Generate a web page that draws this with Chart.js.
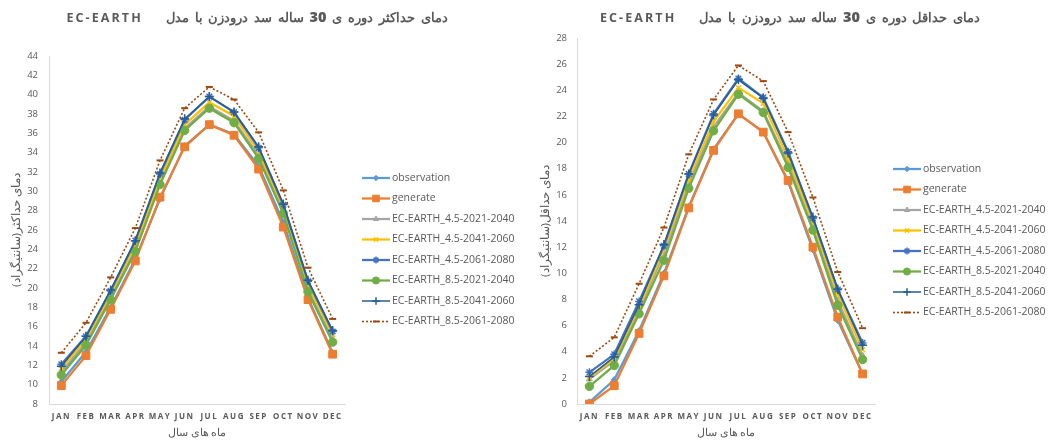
<!DOCTYPE html>
<html><head><meta charset="utf-8">
<script src="https://cdn.jsdelivr.net/npm/chart.js@4.4.1/dist/chart.umd.min.js"></script>
<style>
html,body{margin:0;padding:0;background:#fff;}
body{width:1048px;height:443px;position:relative;overflow:hidden;font-family:'Open Sans','Noto Sans',sans-serif;}
.title{position:absolute;top:6px;height:22px;line-height:22px;direction:rtl;text-align:center;color:#595959;font-size:12.5px;font-weight:bold;letter-spacing:2.1px;word-spacing:2.5px;white-space:nowrap;}
.title b{font-size:14.5px;}
#c1wrap{position:absolute;left:0;top:0;width:530px;height:443px;}
#c2wrap{position:absolute;left:525px;top:0;width:523px;height:443px;}
</style></head>
<body>
<div id="c1wrap"><canvas id="c1" width="530" height="443"></canvas></div>
<div id="c2wrap"><canvas id="c2" width="523" height="443"></canvas></div>
<div class="title" style="left:37px;width:440px;">دمای حداکثر دوره ی <b>30</b> ساله سد درودزن با مدل&nbsp;&nbsp;&nbsp; EC-EARTH</div>
<div class="title" style="left:570px;width:440px;">دمای حداقل دوره ی <b>30</b> ساله سد درودزن با مدل&nbsp;&nbsp;&nbsp; EC-EARTH</div>
<script>
// ---- data ----
const months = ['JAN','FEB','MAR','APR','MAY','JUN','JUL','AUG','SEP','OCT','NOV','DEC'];
const seriesNames = ['observation','generate','EC-EARTH_4.5-2021-2040','EC-EARTH_4.5-2041-2060','EC-EARTH_4.5-2061-2080','EC-EARTH_8.5-2021-2040','EC-EARTH_8.5-2041-2060','EC-EARTH_8.5-2061-2080'];

// maximum temperature (left chart)
const maxObservation = [10.3, 13.4, 18.0, 23.0, 29.2, 34.7, 36.9, 35.9, 32.6, 26.8, 19.0, 13.3];
const maxGenerate    = [9.9, 13.0, 17.8, 22.8, 29.4, 34.6, 36.9, 35.8, 32.3, 26.3, 18.8, 13.15];
const max45_2021     = [11.3, 14.4, 19.0, 24.0, 30.9, 36.5, 38.8, 37.3, 33.7, 27.9, 19.8, 14.7];
const max45_2041     = [11.7, 14.7, 19.4, 24.5, 31.3, 36.9, 39.2, 37.8, 34.1, 28.3, 20.3, 15.2];
const max45_2061     = [12.1, 15.0, 19.7, 24.9, 31.8, 37.4, 39.8, 38.2, 34.5, 28.6, 20.7, 15.5];
const max85_2021     = [11.0, 14.1, 18.8, 23.8, 30.7, 36.3, 38.6, 37.1, 33.4, 27.7, 19.6, 14.4];
const max85_2041     = [11.9, 15.0, 19.8, 24.9, 31.9, 37.5, 39.8, 38.2, 34.6, 28.7, 20.8, 15.6];
const max85_2061     = [13.3, 16.4, 21.1, 26.2, 33.2, 38.6, 40.8, 39.5, 36.1, 30.1, 22.1, 16.8];

// minimum temperature (right chart)
const minObservation = [0.15, 1.85, 5.6, 10.0, 15.1, 19.5, 22.2, 20.8, 17.0, 11.8, 6.4, 2.3];
const minGenerate    = [0.0, 1.4, 5.4, 9.8, 15.0, 19.4, 22.2, 20.8, 17.1, 12.0, 6.65, 2.3];
const min45_2021     = [1.9, 3.3, 7.2, 11.5, 16.9, 21.2, 23.8, 22.4, 18.4, 13.5, 7.9, 3.7];
const min45_2041     = [2.0, 3.5, 7.4, 11.8, 17.2, 21.6, 24.2, 23.0, 18.8, 13.9, 8.4, 4.15];
const min45_2061     = [2.42, 3.8, 7.85, 12.1, 17.6, 22.2, 24.9, 23.45, 19.3, 14.2, 8.75, 4.67];
const min85_2021     = [1.35, 2.95, 6.9, 11.0, 16.5, 20.9, 23.7, 22.3, 18.1, 13.3, 7.55, 3.4];
const min85_2041     = [2.1, 3.6, 7.6, 12.2, 17.6, 22.1, 24.8, 23.4, 19.2, 14.3, 8.8, 4.5];
const min85_2061     = [3.65, 5.1, 9.2, 13.5, 19.1, 23.3, 25.9, 24.7, 20.8, 15.8, 10.1, 5.8];

const maxTicks = {min: 8, max: 44, step: 2};
const minTicks = {min: 0, max: 28, step: 2};

const leftTitle = 'دمای حداکثر(سانتیگراد)\u200F';
const rightTitle = 'دمای حداقل(سانتیگراد)\u200F';
const xTitle = 'ماه های سال';

// ---- styles ----
const styles = [
  {c:'#5B9BD5', ps:'rectRot', r:3.2, w:2.25, pb:1},
  {c:'#ED7D31', ps:'rect', r:5.5, w:2.25, pb:1},
  {c:'#A5A5A5', ps:'triangle', r:3.5, w:2.25, pb:1},
  {c:'#FFC000', ps:'crossRot', r:3.5, w:2.25, pb:1.5},
  {c:'#4472C4', ps:'star', r:4, w:2.25, pb:1.5},
  {c:'#70AD47', ps:'circle', r:4.2, w:2.25, pb:1},
  {c:'#255E91', ps:'cross', r:4.5, w:1.5, pb:1.5},
  {c:'#9E480E', ps:'line', r:3.5, w:1.6, pb:2, dash:[2,2]}
];
const TXT = '#595959';
const FONT = "'Open Sans','Noto Sans',sans-serif";

function buildDatasets(arrs){
  return arrs.map((d,i)=>{
    const s = styles[i];
    return {
      label: seriesNames[i], data: d,
      borderColor: s.c, backgroundColor: s.c, pointBackgroundColor: s.c, pointBorderColor: s.c,
      borderWidth: s.w, borderDash: s.dash || [], pointStyle: s.ps, pointRadius: s.r,
      pointBorderWidth: s.pb, tension: 0, order: arrs.length - i, fill:false
    };
  });
}

const sideLegend = {
  id:'sideLegend',
  afterDraw(chart, args, opts){
    const ctx = chart.ctx;
    ctx.save();
    chart.data.datasets.forEach((ds,i)=>{
      const y = opts.y + i*opts.gap, x0 = opts.x, len = opts.len;
      ctx.beginPath();
      ctx.setLineDash(ds.borderDash||[]);
      ctx.lineWidth = ds.borderWidth;
      ctx.strokeStyle = ds.borderColor;
      ctx.moveTo(x0,y); ctx.lineTo(x0+len,y); ctx.stroke();
      ctx.setLineDash([]);
      ctx.fillStyle = ds.pointBackgroundColor; ctx.strokeStyle = ds.pointBorderColor;
      ctx.lineWidth = ds.pointBorderWidth;
      if (Chart.helpers && Chart.helpers.drawPoint) {
        Chart.helpers.drawPoint(ctx, {pointStyle: ds.pointStyle, radius: ds.pointRadius*0.85, rotation:0, borderWidth: ds.pointBorderWidth}, x0+len/2, y);
      }
      ctx.fillStyle = TXT;
      ctx.font = "10.5px " + FONT;
      ctx.textAlign = 'left'; ctx.textBaseline = 'middle';
      ctx.fillText(ds.label, x0+len+2, y);
    });
    ctx.restore();
  }
};

const spacingPatch = {
  id:'spacingPatch',
  afterLayout(chart){
    const s = chart.scales.x;
    if (s && !s._patched) {
      const orig = s.drawLabels;
      s.drawLabels = function(a){ const c = this.ctx; c.save(); c.letterSpacing = '1.5px'; orig.call(this, a); c.restore(); };
      s._patched = true;
    }
  }
};

function makeChart(id, arrs, tk, yTitle, L){
  return new Chart(document.getElementById(id), {
    type:'line',
    data:{ labels: months, datasets: buildDatasets(arrs) },
    plugins:[sideLegend, spacingPatch],
    options:{
      responsive:false, animation:false, devicePixelRatio:1,
      layout:{ padding:{ left:0, right:L.padRight, top:L.padTop, bottom:0 } },
      plugins:{
        legend:{display:false}, title:{display:false}, tooltip:{enabled:false},
        sideLegend:{ x:L.legX, y:L.legY, gap:20.5, len:28 }
      },
      scales:{
        x:{
          type:'category', offset:true,
          grid:{display:false, drawTicks:false},
          border:{display:true, color:'#D9D9D9', width:1},
          ticks:{ color:TXT, font:{family:FONT, size:8, weight:'bold'}, padding:8, maxRotation:0, autoSkip:false },
          title:{ display:true, text:xTitle, color:TXT, font:{family:FONT, size:11}, padding:{top:0, bottom:4} },
          afterFit(s){ s.height = 39; }
        },
        y:{
          min:tk.min, max:tk.max,
          grid:{display:false, drawTicks:false},
          border:{display:true, color:'#D9D9D9', width:1},
          ticks:{ stepSize:tk.step, color:TXT, font:{family:FONT, size:9.5}, padding:L.tickPad },
          title:{ display:true, text:yTitle, color:TXT, font:{family:FONT, size:11.5}, padding:{top:L.titlePad, bottom:0} },
          afterFit(s){ s.width = L.yWidth; }
        }
      }
    }
  });
}

makeChart('c1', [maxObservation, maxGenerate, max45_2021, max45_2041, max45_2061, max85_2021, max85_2041, max85_2061],
  maxTicks, leftTitle, {padRight:185, padTop:56, yWidth:49, tickPad:11, titlePad:10, legX:362, legY:178});
makeChart('c2', [minObservation, minGenerate, min45_2021, min45_2041, min45_2061, min85_2021, min85_2041, min85_2061],
  minTicks, rightTitle, {padRight:173, padTop:38, yWidth:52, tickPad:10, titlePad:14, legX:368, legY:169});
</script>
</body></html>
